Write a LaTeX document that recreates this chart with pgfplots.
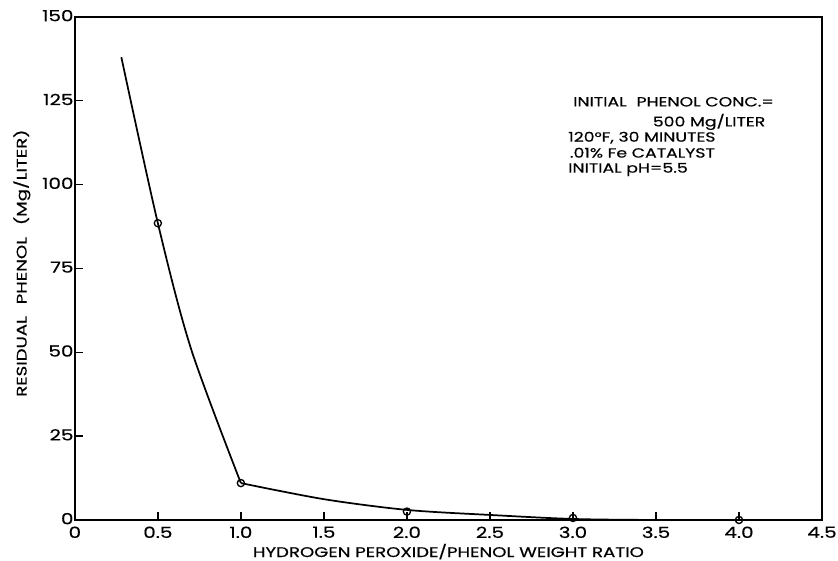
\documentclass[border=0pt]{standalone}
\usepackage{pgfplots}
\pgfplotsset{compat=1.18}
\usepackage{fontspec}
\setmainfont{Poppins}[FakeStretch=1.3, FakeBold=0.5]
\begin{document}
\begin{tikzpicture}
\useasboundingbox (-56.25pt,-30.75pt) rectangle (573.5pt,390.75pt);
\begin{axis}[
    scale only axis,
    width=561.5pt, height=378pt,
    xmin=0, xmax=4.5, ymin=0, ymax=150,
    xtick={0,0.5,...,4.5},
    ytick={0,25,...,150},
    xticklabels={0,0.5,1.0,1.5,2.0,2.5,3.0,3.5,4.0,4.5},
    yticklabel style={xshift=2.5pt, yshift=1pt},
    xticklabel style={yshift=-1.5pt},
    /pgf/number format/assume math mode=true,
    tick label style={font=\fontsize{11.5}{13}\selectfont},
    tick align=inside,
    major tick length=6pt,
    xtick pos=bottom, ytick pos=left,
    axis line style={line width=1.3pt},
    major tick style={line width=1pt, black},
    xlabel={HYDROGEN PEROXIDE/PHENOL WEIGHT RATIO},
    ylabel={RESIDUAL\hspace{0.5em} PHENOL\hspace{0.5em} (Mg/LITER)},
    label style={font=\fontsize{10.5}{12}\selectfont},
    xlabel style={yshift=2.5pt},
    ylabel style={yshift=2pt, xshift=4pt},
    clip=false,
]
% curve, steep part
\addplot[black, line width=1.3pt, smooth] coordinates {
    (0.28,138) (0.5,88.5) (0.7,51) (1.0,11)
};
% curve, flat part
\addplot[black, line width=1.3pt, smooth] coordinates {
    (1.0,11) (1.5,6.2) (2.0,3.0) (2.5,1.5) (3.0,0.3) (3.5,0) (4.0,0)
};
% measured points
\addplot[only marks, mark=o, mark size=2.7pt, mark options={fill=white, line width=1pt}] coordinates {
    (0.5,88.5) (1.0,11) (2.0,2.5) (3.0,0.6) (4.0,0)
};
\begin{scope}[font=\fontsize{10}{12}\selectfont, inner sep=0pt]
\node[anchor=west] at (axis cs:3.0,124.7) {INITIAL\hspace{0.4em} PHENOL CONC.=};
\node[anchor=east] at (axis cs:4.16,118.7) {500 Mg/LITER};
\node[anchor=west] at (axis cs:2.97,114.0) {120°F, 30 MINUTES};
\node[anchor=west] at (axis cs:2.98,109.5) {.01\% Fe CATALYST};
\node[anchor=west] at (axis cs:2.97,104.5) {INITIAL pH=5.5};
\end{scope}
\end{axis}
\end{tikzpicture}
\end{document}
